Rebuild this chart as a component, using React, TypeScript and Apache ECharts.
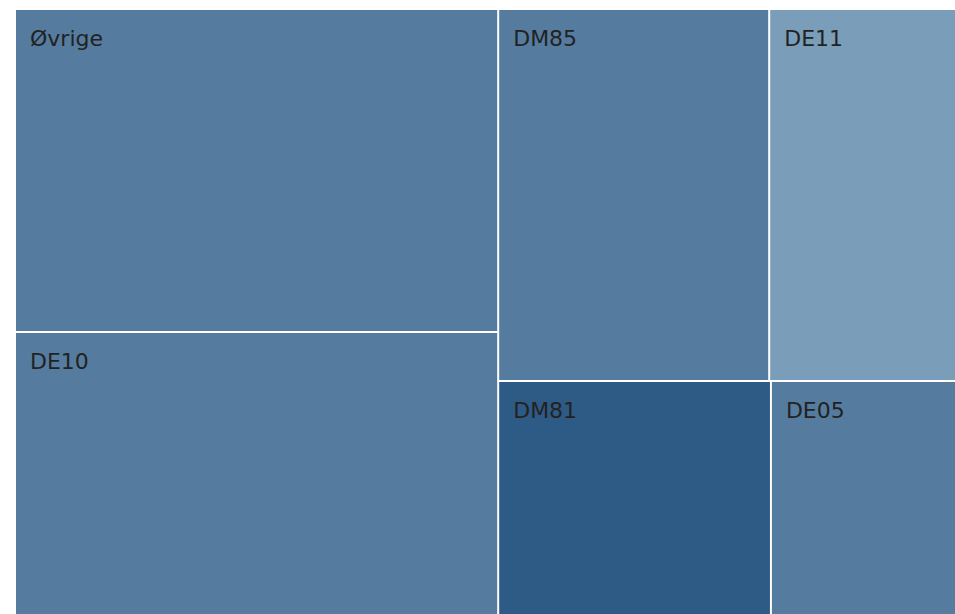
import React, { useEffect, useRef } from "react";
import * as echarts from "echarts";

const names = ["Øvrige", "DE10", "DM85", "DE11", "DM81", "DE05"];
const values = [27.4, 24.0, 17.7, 12.2, 11.2, 7.6];
const colors = ["#557c9f", "#557c9f", "#557c9f", "#7a9db9", "#2e5a86", "#557c9f"];

export default function App() {
  const ref = useRef<HTMLDivElement>(null);
  useEffect(() => {
    document.body.style.margin = "0";
    document.body.style.overflow = "hidden";
    if (!ref.current) return;
    const chart = echarts.init(ref.current, undefined, { renderer: "svg" });
    chart.setOption({
      animation: false,
      tooltip: { show: false },
      series: [
        {
          type: "treemap",
          left: 16,
          top: 10,
          right: 0,
          bottom: 0,
          roam: false,
          nodeClick: false,
          breadcrumb: { show: false },
          squareRatio: 0.5 * (1 + Math.sqrt(5)),
          levels: [
            {
              itemStyle: { borderWidth: 0, gapWidth: 2, borderColor: "#fff" },
            },
          ],
          label: {
            show: true,
            position: "insideTopLeft",
            fontFamily: "DejaVu Sans",
            fontSize: 22,
            color: "#222",
            padding: [17, 0, 0, 14],
          },
          data: names.map((n, i) => ({
            name: n,
            value: values[i],
            itemStyle: { color: colors[i] },
          })),
        },
      ],
    });
    return () => chart.dispose();
  }, []);
  return <div ref={ref} style={{ width: 955, height: 614 }} />;
}
